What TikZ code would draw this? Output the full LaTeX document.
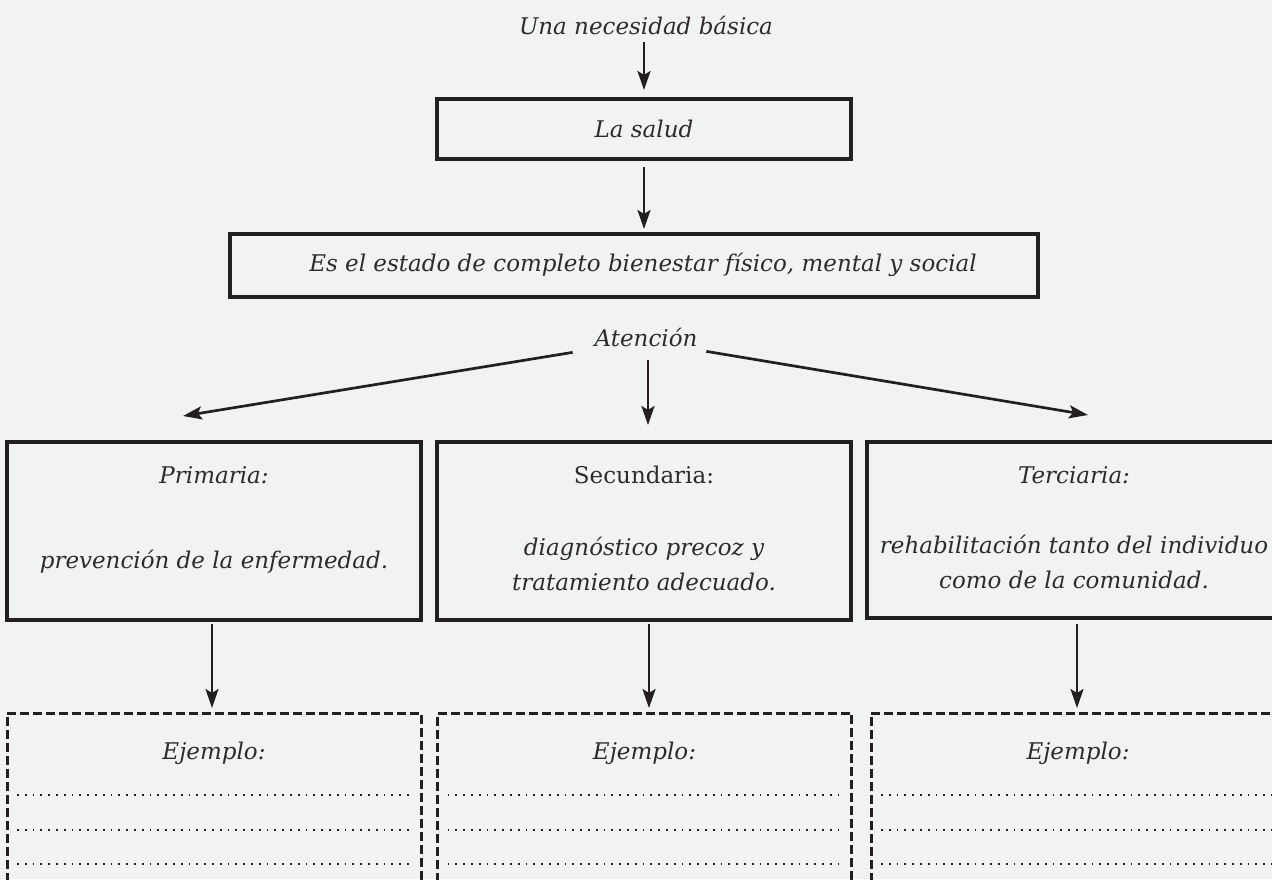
\documentclass[tikz,border=0pt]{standalone}
\usepackage{fontspec}
\setmainfont{DejaVu Serif}
\usetikzlibrary{arrows.meta,calc}
\definecolor{bgc}{HTML}{F1F2F4}
\definecolor{linec}{HTML}{231F20}
\definecolor{txtc}{HTML}{2E2B2C}
\begin{document}
\begin{tikzpicture}[x=1pt,y=-1pt,
  every node/.style={inner sep=0pt,outer sep=0pt,text=txtc},
  lbl/.style={font=\fontsize{23}{35}\selectfont\itshape},
  uplbl/.style={font=\fontsize{23}{35}\selectfont\upshape},
  solidbox/.style={draw=linec,line width=3.2pt,minimum width=414pt,anchor=north},
  dashbox/.style={draw=linec,line width=3pt,dash pattern=on 9pt off 4pt,minimum width=414pt,minimum height=260pt,anchor=north},
  dotrule/.style={draw=linec,line width=2pt,dash pattern=on 1.8pt off 6pt},
  arr/.style={draw=linec,line width=2.7pt,-{Stealth[length=19pt,width=13pt,inset=4pt]}}
]
\fill[bgc] (0,0) rectangle (1272,879);
\useasboundingbox (0,0) rectangle (1272,879);

% top
\node[lbl] (top) at (646,25) {Una necesidad básica};
\node[solidbox,minimum height=60pt] (salud) at (644,99) {};
\node[lbl] (saludt) at (644,129) {La salud};
\node[solidbox,minimum width=808pt,minimum height=63pt] (estado) at (634,234) {};
\node[lbl] (estadot) at (643,265) {Es el estado de completo bienestar físico, mental y social};
\node[lbl] (aten) at (646,337) {Atención};

\draw[arr] ($(top.south -| salud.north)+(0,8)$) -- ($(salud.north)+(0,-9)$);
\draw[arr] ($(salud.south)+(0,8)$) -- ($(salud.south |- estado.north)+(0,-5)$);

% level boxes
\node[solidbox,minimum height=178pt] (prim) at (214,442) {};
\node[solidbox,minimum height=178pt] (sec) at (644,442) {};
\node[solidbox,minimum height=176pt] (ter) at (1074,442) {};

\node[lbl] (primh) at (214,475) {Primaria:};
\node[lbl] (primb) at (214,562) {prevención de la enfermedad.};
\node[uplbl] (sech) at (644,475) {Secundaria:};
\node[lbl,align=center] (secb) at (644,564) {diagnóstico precoz y\\tratamiento adecuado.};
\node[lbl] (terh) at (1074,475) {Terciaria:};
\node[lbl,align=center] (terb) at (1074,562) {rehabilitación tanto del individuo\\como de la comunidad.};

% arrows from Atención
\coordinate (lt) at (183,416);
\coordinate (mt) at (648,425);
\coordinate (rt) at (1088,415);
\draw[arr] ($(aten.south west)+(-22,6)$) -- (lt);
\draw[arr] ($(aten.south)+(2,14)$) -- (mt);
\draw[arr] ($(aten.south east)+(9,5)$) -- (rt);

% example boxes
\node[dashbox] (ex1) at (214,713) {};
\node[dashbox] (ex2) at (644.5,713) {};
\node[dashbox] (ex3) at (1078,713) {};
\foreach \b in {ex1,ex2,ex3}{
  \node[lbl] at ($(\b.north)+(0,40)$) {Ejemplo:};
  \foreach \dy in {82,117,151}{
    \draw[dotrule] ($(\b.north west)+(10,\dy)$) -- ($(\b.north east)+(-8,\dy)$);
  }
}

\draw[arr] ($(prim.south)+(-2,4)$) -- ($(ex1.north)+(-2,-5)$);
\draw[arr] ($(sec.south)+(5,4)$) -- ($(ex2.north)+(4.5,-5)$);
\draw[arr] ($(ter.south)+(3,6)$) -- ($(ex3.north)+(-1,-5)$);
\end{tikzpicture}
\end{document}
